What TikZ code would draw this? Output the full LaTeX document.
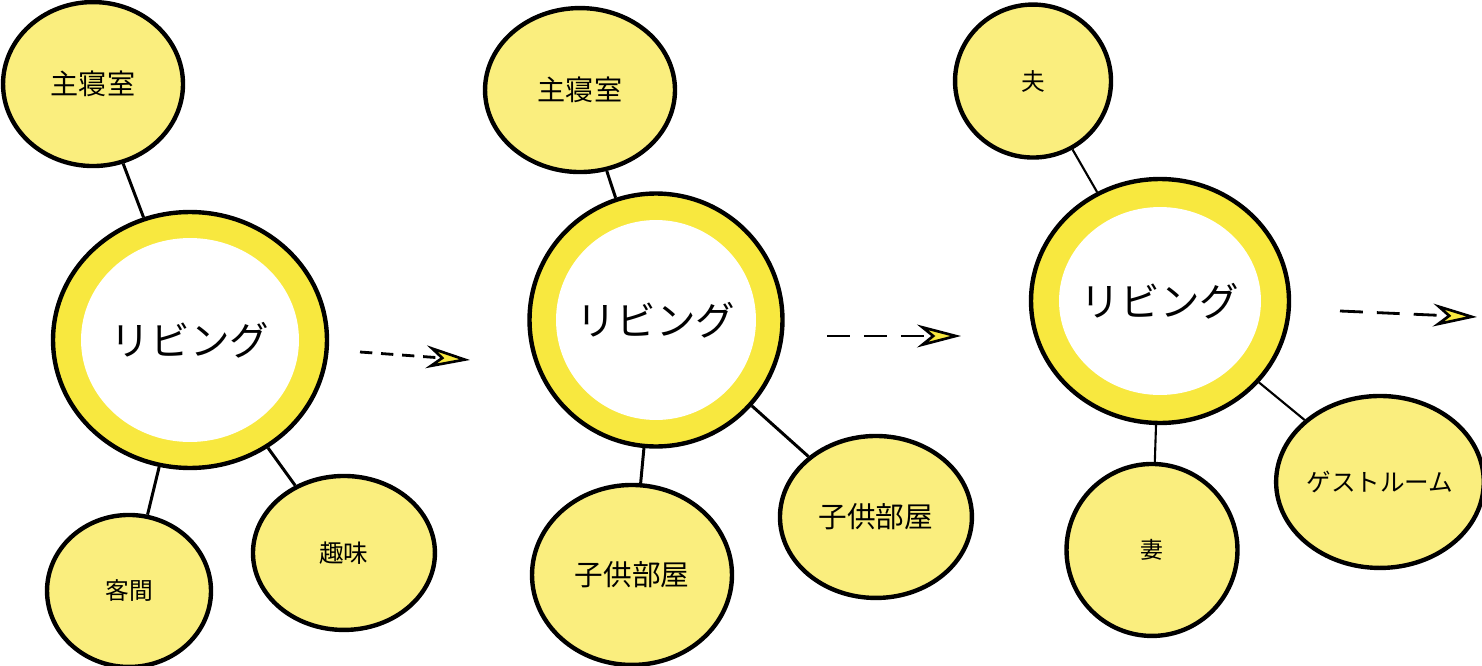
\documentclass[tikz,border=0pt]{standalone}
\usepackage{fontspec}
\setmainfont{Noto Sans CJK JP}
\usetikzlibrary{shapes.geometric,positioning,arrows.meta}

\definecolor{roomyellow}{HTML}{FAEE7E}
\definecolor{ringyellow}{HTML}{F8E83F}

\tikzset{
	room/.style={ellipse, draw, line width=2.5pt, fill=roomyellow, inner sep=0pt, font=\fontsize{#1}{#1}\selectfont},
	room/.default=16pt,
	hub/.style n args={4}{ellipse, draw, line width=2.5pt, fill=ringyellow, inner sep=0pt,
		minimum width=#1, minimum height=#2, font=\fontsize{22.5pt}{22.5pt}\selectfont,
		path picture={\fill[white] (path picture bounding box.center) ellipse (#3 and #4);}},
	link/.style={line width=1.7pt},
	flow/.style={line width=1.6pt, dash pattern=on 13pt off 8pt,
		-{Stealth[length=25pt, width=13pt, inset=8pt, fill=ringyellow, line width=1.5pt]}}
}

\begin{document}
\begin{tikzpicture}[x=0.02cm, y=-0.02cm, on grid]
	\useasboundingbox (0,0) rectangle (1482,666);
	
	\node[hub={5.48cm}{5.12cm}{2.18cm}{2.04cm}] (l1) at (190,340) {リビング};
	\node[room, minimum width=3.6cm, minimum height=3.28cm, above left=5.12cm and 1.94cm of l1] (r1) {主寝室};
	\node[room=13.5pt, minimum width=3.28cm, minimum height=3.04cm, below left=5.02cm and 1.22cm of l1] (r2) {客間};
	\node[room=14pt, minimum width=3.64cm, minimum height=3.08cm, below right=4.26cm and 3.08cm of l1] (r3) {趣味};
	
	\node[hub={5.06cm}{5.06cm}{2cm}{2cm}] (l2) at (656,320) {リビング};
	\node[room, minimum width=3.8cm, minimum height=3.28cm, above left=4.6cm and 1.52cm of l2] (r4) {主寝室};
	\node[room=16.3pt, minimum width=4cm, minimum height=3.6cm, below left=5.1cm and 0.48cm of l2] (r5) {子供部屋};
	\node[room=16.3pt, minimum width=3.84cm, minimum height=3.24cm, below right=3.94cm and 4.4cm of l2] (r6) {子供部屋};
	
	\node[hub={5.16cm}{4.88cm}{2.02cm}{1.88cm}] (l3) at (1160,301) {リビング};
	\node[room=13.5pt, minimum width=3.12cm, minimum height=3.06cm, above left=4.4cm and 2.54cm of l3] (r7) {夫};
	\node[room=13pt, minimum width=3.42cm, minimum height=3.44cm, below left=4.98cm and 0.16cm of l3] (r8) {妻};
	\node[room=14pt, minimum width=3.66cm, minimum height=3.44cm, below right=3.62cm and 4.4cm of l3] (r9) {ゲストルーム};
	
	\draw[link] (r1) -- (l1);
	\draw[link] (l1) -- (r2);
	\draw[link] (l1) -- (r3);
	\draw[link] (r4) -- (l2);
	\draw[link] (l2) -- (r5);
	\draw[link] (l2) -- (r6);
	\draw[link, line width=1.2pt] (r7) -- (l3);
	\draw[link, line width=1.2pt] (l3) -- (r8);
	\draw[link, line width=1.2pt] (l3) -- (r9);
	
	\coordinate (a1) at (360,352);
	\coordinate (b1) at (470,360);
	\coordinate (a2) at (827,336);
	\coordinate (b2) at (961,336);
	\coordinate (a3) at (1340,311);
	\coordinate (b3) at (1477,317);
	\draw[flow, dash pattern=on 7pt off 5pt] (a1) -- (b1);
	\draw[flow] (a2) -- (b2);
	\draw[flow] (a3) -- (b3);
\end{tikzpicture}
\end{document}
